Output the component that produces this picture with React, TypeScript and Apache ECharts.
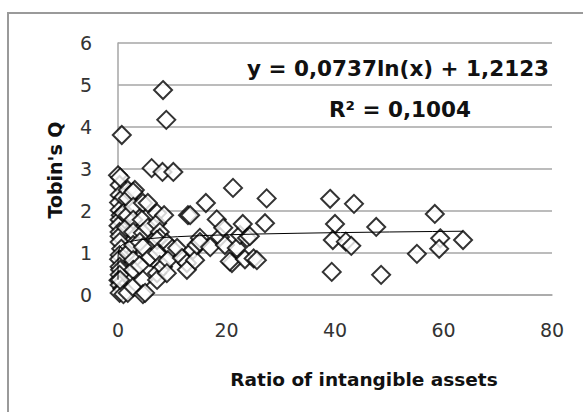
import React, { useEffect, useRef } from "react";
import * as echarts from "echarts";

// Scatter data: [ratio of intangible assets, Tobin's Q]
const points: [number, number][] = [
  // x ≈ 0–1
  [0.7, 3.81], [0.0, 2.85], [0.3, 2.62], [0.3, 2.38], [0.2, 2.2], [0.3, 2.02],
  [0.5, 1.9], [0.3, 1.79], [0.1, 1.65], [0.3, 1.5], [0.3, 1.4], [0.3, 1.26],
  [0.6, 1.1], [0.3, 0.95], [0.2, 0.85], [0.3, 0.67], [0.4, 0.6], [0.3, 0.48],
  [0.1, 0.35], [0.3, 0.24], [0.8, 0.15], [0.3, 0.05], [1.0, 0.02], [0.4, 2.8],
  [1.0, 2.33], [1.0, 1.95], [0.4, 0.36],
  // x ≈ 1.8
  [1.8, 2.5], [1.8, 2.3], [1.8, 1.9], [1.8, 1.0], [1.8, 0.05], [1.5, 1.6],
  // x ≈ 2.8–3
  [3.1, 2.5], [2.8, 2.45], [2.8, 2.1], [2.8, 1.79], [2.8, 1.5], [2.8, 1.19],
  [2.8, 0.83], [2.8, 0.6], [2.8, 0.19],
  // x ≈ 4–5
  [4.6, 2.19], [4.4, 1.79], [4.6, 1.48], [4.0, 1.26], [4.6, 1.14], [4.0, 0.71],
  [4.6, 0.36], [4.6, 0.02], [5.0, 0.05],
  // x ≈ 5.5–8
  [5.5, 2.19], [5.5, 1.6], [5.9, 0.9], [6.2, 3.02], [7.2, 1.95], [7.2, 1.71],
  [7.7, 1.5], [7.7, 1.36], [7.2, 1.31], [7.2, 1.0], [7.7, 0.71], [7.2, 0.52],
  [7.2, 0.36], [8.3, 0.67],
  // x ≈ 8–11
  [8.3, 4.88], [8.9, 4.17], [8.2, 2.93], [10.2, 2.93], [8.5, 1.9], [9.0, 1.24],
  [10.0, 1.1], [9.2, 0.83], [9.0, 0.52], [10.9, 1.12], [11.8, 0.88],
  // x ≈ 12–20
  [12.9, 1.9], [13.3, 1.9], [12.7, 0.76], [12.7, 0.6], [13.8, 1.07], [14.2, 0.83],
  [14.5, 1.19], [15.1, 1.36], [15.1, 1.26], [16.2, 2.19], [17.0, 1.14],
  [18.2, 1.8], [18.8, 1.38], [19.4, 1.6], [19.7, 1.19],
  // x ≈ 20–28
  [21.2, 2.55], [21.0, 0.76], [20.6, 0.8], [21.9, 1.12], [22.5, 1.43],
  [23.0, 1.69], [23.4, 0.85], [23.8, 1.36], [24.3, 1.4], [25.0, 0.87],
  [25.6, 0.83], [27.4, 2.3], [27.1, 1.71],
  // x ≈ 39–64
  [39.1, 2.29], [43.5, 2.17], [40.0, 1.69], [47.6, 1.62], [58.4, 1.93],
  [39.6, 1.31], [42.0, 1.27], [43.0, 1.17], [59.4, 1.35], [63.6, 1.31],
  [59.2, 1.1], [55.1, 0.98], [39.4, 0.55], [48.5, 0.48],
];

// Logarithmic trendline shown on the chart: y = 0,0737 ln(x) + 1,2123
const trendA = 0.0737;
const trendB = 1.2123;
const trendX: number[] = [
  0.00001, 0.0001, 0.001, 0.01, 0.03, 0.1, 0.2, 0.4, 0.7, 1, 1.5, 2, 3, 4, 6, 8,
  11, 15, 20, 26, 33, 41, 50, 58, 63.6,
];

const xTicks = { min: 0, max: 80, interval: 20 };
const yTicks = { min: 0, max: 6, interval: 1 };

const equationText = "y = 0,0737ln(x) + 1,2123";
const r2Text = "R² = 0,1004";
const xTitle = "Ratio of intangible assets";
const yTitle = "Tobin's Q";

export default function App() {
  const ref = useRef<HTMLDivElement>(null);

  useEffect(() => {
    document.body.style.margin = "0";
    if (!ref.current) return;
    const chart = echarts.init(ref.current, undefined, { renderer: "svg" });
    const font = "'DejaVu Sans', sans-serif";
    const trend = trendX.map((x) => [x, trendA * Math.log(x) + trendB]);

    chart.setOption({
      animation: false,
      backgroundColor: "#ffffff",
      grid: { left: 118, top: 43, right: 31, bottom: 117, containLabel: false },
      xAxis: {
        type: "value",
        min: xTicks.min,
        max: xTicks.max,
        interval: xTicks.interval,
        axisLine: { show: true, lineStyle: { color: "#a6a6a6", width: 1.5 } },
        axisTick: { show: false },
        splitLine: { show: false },
        axisLabel: { fontSize: 19, color: "#333", fontFamily: font, margin: 25 },
      },
      yAxis: {
        type: "value",
        min: yTicks.min,
        max: yTicks.max,
        interval: yTicks.interval,
        axisLine: { show: true, lineStyle: { color: "#a6a6a6", width: 1.5 } },
        axisTick: { show: false },
        splitLine: { show: true, lineStyle: { color: "#a6a6a6", width: 1.5 } },
        axisLabel: { fontSize: 19, color: "#333", fontFamily: font, margin: 26 },
      },
      series: [
        {
          type: "scatter",
          data: points,
          symbol: "diamond",
          symbolSize: 18,
          itemStyle: { color: "#ffffff", borderColor: "#000000", borderWidth: 2 },
          z: 2,
        },
        {
          type: "line",
          data: trend,
          showSymbol: false,
          symbol: "none",
          lineStyle: { color: "#000000", width: 1 },
          z: 3,
        },
      ],
      graphic: [
        {
          type: "rect",
          shape: { x: 8, y: 13, width: 700, height: 600 },
          style: { fill: "none", stroke: "#9a9a9a", lineWidth: 2 },
          silent: true,
        },
        {
          type: "text",
          x: 398,
          y: 68,
          style: {
            text: equationText,
            font: `bold 21.5px ${font}`,
            fill: "#111",
            align: "center",
            verticalAlign: "middle",
          },
          z: 10,
        },
        {
          type: "text",
          x: 400,
          y: 109,
          style: {
            text: r2Text,
            font: `bold 21.5px ${font}`,
            fill: "#111",
            align: "center",
            verticalAlign: "middle",
          },
          z: 10,
        },
        {
          type: "text",
          x: 364,
          y: 379,
          style: {
            text: xTitle,
            font: `bold 18.5px ${font}`,
            fill: "#111",
            align: "center",
            verticalAlign: "middle",
          },
        },
        {
          type: "text",
          x: 55,
          y: 170,
          rotation: Math.PI / 2,
          style: {
            text: yTitle,
            font: `bold 19px ${font}`,
            fill: "#111",
            align: "center",
            verticalAlign: "middle",
          },
        },
      ],
    });

    return () => chart.dispose();
  }, []);

  return <div ref={ref} style={{ width: 583, height: 412 }} />;
}
